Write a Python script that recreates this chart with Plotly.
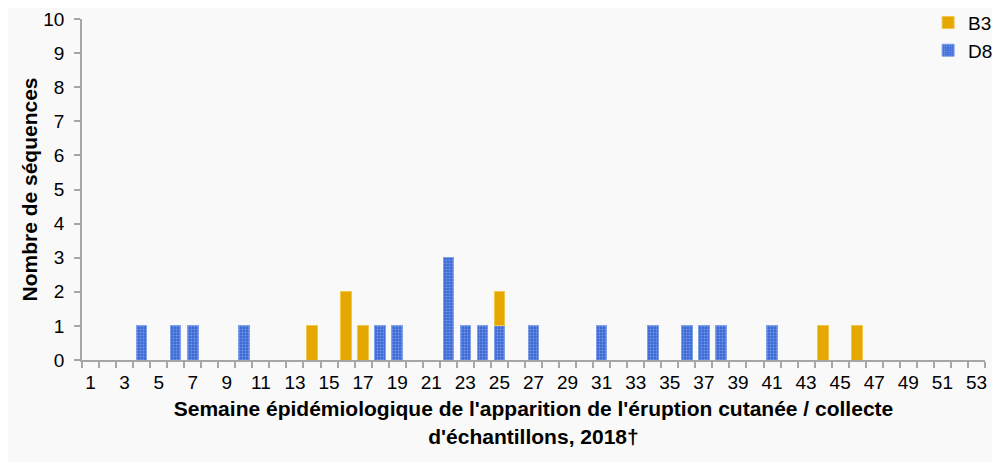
import plotly.graph_objects as go

# semaines 1..53, une étiquette sur deux
etiquettes_semaines = list(range(1, 54, 2))

d8_semaines = [4, 6, 7, 10, 18, 19, 22, 23, 24, 25, 27, 31, 34, 36, 37, 38, 41]
d8_sequences = [1, 1, 1, 1, 1, 1, 3, 1, 1, 1, 1, 1, 1, 1, 1, 1, 1]

b3_semaines = [14, 16, 17, 25, 44, 46]
b3_sequences = [1, 2, 1, 1, 1, 1]

fond = '#f9f9f9'
gris = '#a6a6a6'
police = 'Liberation Sans, Arial, sans-serif'

fig = go.Figure()

fig.add_trace(go.Bar(
    x=d8_semaines,
    y=d8_sequences,
    name='D8',
    legendgroup='D8',
    legendrank=2,
    width=0.62,
    marker=dict(
        color='#3a68d6',
        line=dict(color='#7f9fe6', width=1),
        pattern=dict(shape='.', fgcolor='#b5c7f2', size=3, solidity=0.35),
    ),
))

fig.add_trace(go.Bar(
    x=b3_semaines,
    y=b3_sequences,
    name='B3',
    legendgroup='B3',
    legendrank=1,
    width=0.62,
    marker=dict(color='#e5a800', line=dict(color='#f0c64d', width=1)),
))

# la page ajoute une marge de 8 px autour de la figure
fig.update_layout(
    barmode='stack',
    width=1000,
    height=462,
    paper_bgcolor=fond,
    plot_bgcolor=fond,
    margin=dict(l=74, r=23, t=11, b=110, autoexpand=False),
    font=dict(family=police, size=19, color='#000000'),
    legend=dict(
        x=0.937, xanchor='left', y=1.045, yanchor='top',
        traceorder='grouped', tracegroupgap=0,
        bgcolor='rgba(0,0,0,0)', font=dict(size=19),
    ),
    xaxis=dict(
        range=[0.5, 53.5],
        tickvals=etiquettes_semaines,
        ticks='',
        ticklabelstandoff=4,
        showline=True, linecolor=gris, linewidth=1.5,
        showgrid=False, zeroline=False,
        tickfont=dict(size=19),
        minor=dict(ticks='outside', tick0=0.5, dtick=1, ticklen=6,
                   tickcolor=gris, tickwidth=1.5, showgrid=False),
        title=dict(
            text="Semaine épidémiologique de l'apparition de l'éruption cutanée / collecte<br>d'échantillons, 2018†",
            font=dict(size=21, weight='bold'),
            standoff=10,
        ),
    ),
    yaxis=dict(
        range=[0, 10],
        dtick=1,
        ticks='outside', ticklen=6, tickcolor=gris, tickwidth=1.5,
        ticklabelstandoff=6,
        showline=True, linecolor=gris, linewidth=1.5,
        showgrid=False, zeroline=False,
        tickfont=dict(size=19),
        title=dict(text='Nombre de séquences', font=dict(size=21, weight='bold'), standoff=0),
    ),
)

fig.write_html("out.html")
